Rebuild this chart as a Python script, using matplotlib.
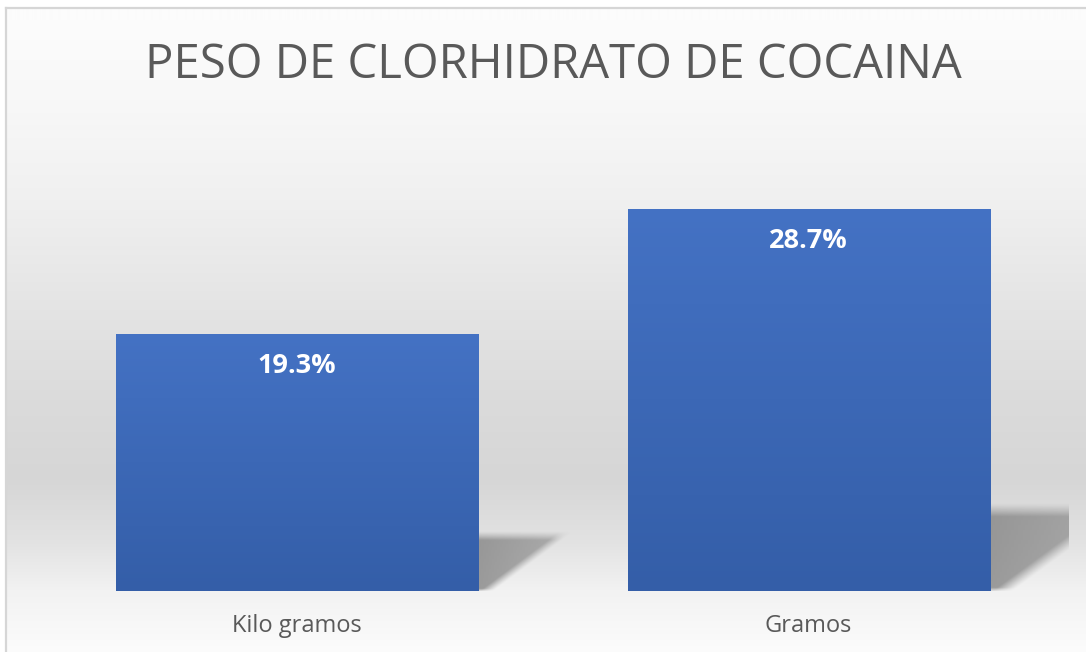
import numpy as np
import matplotlib
matplotlib.use("Agg")
import matplotlib.pyplot as plt
from matplotlib import font_manager
from matplotlib.lines import Line2D

# data
categories = ["Kilo gramos", "Gramos"]
values = [19.3, 28.7]
value_labels = ["19.3%", "28.7%"]
title = "PESO DE CLORHIDRATO DE COCAINA"

W, H = 1086, 652
fig = plt.figure(figsize=(W / 100, H / 100), dpi=100)
fig.patch.set_facecolor("white")

names = {f.name for f in font_manager.fontManager.ttflist}
title_font = "Liberation Sans Narrow" if "Liberation Sans Narrow" in names else "Open Sans"
body_font = "Open Sans"

# background gradient inside the frame
bg = fig.add_axes([6 / W, 0, 1 - 6 / W, 1 - 8 / H], zorder=0)
ys = np.array([8, 20, 100, 200, 300, 400, 480, 540, 590, 652])
gs = np.array([252, 252, 248, 240, 229, 219, 214, 226, 242, 252]) / 255
yy = np.arange(8, 652)
g = np.interp(yy, ys, gs)
bg.imshow(np.repeat(g[:, None], 4, axis=1)[:, :, None].repeat(3, axis=2),
          aspect="auto", extent=[0, 1, 0, 1], interpolation="bilinear")
bg.axis("off")

# frame lines (top and left)
fig.add_artist(Line2D([6 / W, 1], [1 - 8 / H, 1 - 8 / H], color="#d6d6d6", lw=1.6))
fig.add_artist(Line2D([6 / W, 6 / W], [0, 1 - 8 / H], color="#d6d6d6", lw=1.6))

# plot area
left, right, top, base = 37.7, 1068, 130, 591
ax = fig.add_axes([left / W, (H - base) / H, (right - left) / W, (base - top) / H], zorder=1)
ax.set_facecolor("none")
ax.set_xlim(-0.507, 1.507)
ax.set_ylim(0, 34.6)
for s in ax.spines.values():
    s.set_visible(False)
ax.set_xticks([])
ax.set_yticks([])

x = np.arange(len(categories))
bw = 0.708
bars = ax.bar(x, values, width=bw, color="none", zorder=3)

# bar gradient
grad = np.linspace(0, 1, 256)[:, None]
c_top = np.array([68, 114, 196]) / 255
c_bot = np.array([52, 94, 168]) / 255
img = (c_top[None, None, :] * (1 - grad[:, :, None]) + c_bot[None, None, :] * grad[:, :, None])
for b in bars:
    bx, by, bwid, bh = b.get_x(), b.get_y(), b.get_width(), b.get_height()
    im = ax.imshow(img, extent=[bx, bx + bwid, by, by + bh], aspect="auto",
                   zorder=3, interpolation="bilinear")
    im.set_clip_path(b)

# floor shadows to the right of each bar
xpx = 511.5  # px per category unit
ypx = (base - top) / 34.6
nu, nv = 200, 120
u = np.linspace(0, 1.0, nu)[None, :]
v = np.linspace(0, 1.0, nv)[:, None]
xr = 0.16 + 0.84 * v
soft = 0.14
a_h = np.clip((xr - u) / soft, 0, 1)
a_v = np.clip((1 - v) / 0.15, 0, 1)
a_b = np.clip(v / 0.05 + 0.3, 0, 1)
alpha = (a_h * a_v * a_b) ** 1.2
alpha = alpha * (1 - 0.3 * u)
shadow = np.zeros((nv, nu, 4))
shadow[..., :3] = 0.52
shadow[..., 3] = alpha * 0.8
for b, val in zip(bars, values):
    sh = 0.23 * val
    sw = 0.37 * val * ypx / xpx
    x0 = b.get_x() + b.get_width()
    ax.imshow(shadow[::-1], extent=[x0, x0 + sw, 0, sh], aspect="auto",
              zorder=2, interpolation="bilinear")
ax.set_xlim(-0.507, 1.507)
ax.set_ylim(0, 34.6)

# value labels
for xi, val, lab in zip(x, values, value_labels):
    ax.annotate(lab, (xi, val), xytext=(0, -39 * 0.72), textcoords="offset points",
                ha="center", va="baseline", color="white", fontsize=19.5,
                fontweight="bold", family=[body_font, "DejaVu Sans"], zorder=5)

# category labels
for xi, cat in zip(x, categories):
    ax.annotate(cat, (xi, 0), xytext=(0, -41 * 0.72), textcoords="offset points",
                ha="center", va="baseline", color="#595959", fontsize=17,
                family=[body_font, "DejaVu Sans"], annotation_clip=False)

fig.text(553 / W, 1 - 78 / H, title, ha="center", va="baseline", color="#595959",
         fontsize=34, family=[title_font, "DejaVu Sans"])

fig.savefig("out.png", dpi=100, facecolor="white")
